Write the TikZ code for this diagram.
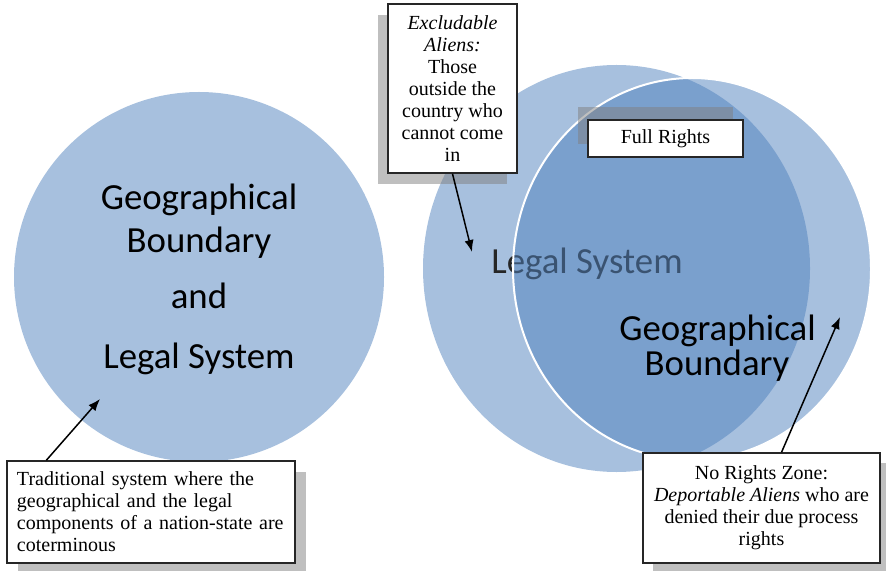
\documentclass[tikz,border=0pt]{standalone}
\usepackage{fontspec}
\setmainfont{Liberation Serif}
\newfontfamily\calibrifont{Carlito}
\usetikzlibrary{arrows.meta, positioning, shadows}
\definecolor{vennblue}{RGB}{79,129,189}
\tikzset{
  zone/.style={
    fill=vennblue,
    fill opacity=0.5
  },
  bigtext/.style={
    font=\calibrifont\fontsize{18.4}{21}\selectfont,
    inner sep=0pt,
    anchor=base
  },
  callout/.style={
    draw=black!85,
    fill=white,
    line width=0.7pt,
    align=center,
    inner sep=2pt,
    font=\fontsize{10}{11}\selectfont
  },
  pointer/.style={
    line width=0.75pt,
    -{Latex[length=6pt,width=4.6pt]}
  }
}

\begin{document}
\begin{tikzpicture}[x=0.5pt, y=-0.5pt]
  \useasboundingbox (0,0) rectangle (886,571);

  % Traditional state
  \fill[zone] (199,277) circle [radius=185];
  \node[bigtext] (geoA) at (199,210) {Geographical};
  \node[bigtext] (geoB) at (199,252) {Boundary};
  \node[bigtext] (andA) at (199,308) {and};
  \node[bigtext] (legA) at (199,368) {Legal System};

  % Legal system and geographical boundary
  \fill[zone] (616.5,268.5) ellipse [x radius=193.5, y radius=203.5];
  \node[bigtext, text=black!85] (legB) at (587,273) {Legal System};
  \filldraw[zone, draw=white, line width=1pt] (692,269) ellipse [x radius=179, y radius=191];
  \node[bigtext] (geoC) at (717.5,340) {Geographical};
  \node[bigtext] (geoD) at (717,375) {Boundary};

  % Arrow targets
  \coordinate (tradtip) at (100,399);
  \coordinate (excltip) at (472,252);
  \coordinate (nortip) at (840,317);

  % Callouts
  \node[callout, minimum width=64.5pt, minimum height=84.5pt,
        drop shadow={shadow xshift=-5pt, shadow yshift=-5.5pt}] (excl) at (452.5,88.5)
    {\textit{Excludable}\\\textit{Aliens:}\\Those\\outside the\\country who\\cannot come\\in};
  \node[callout, minimum width=77.5pt, minimum height=18.5pt,
        drop shadow={shadow xshift=-5pt, shadow yshift=6.5pt}] (full) at (665.5,138.5) {Full Rights};
  \node[callout, align=left, text width=134pt, inner xsep=5pt, minimum height=51pt,
        drop shadow={shadow xshift=5.5pt, shadow yshift=-5.5pt}] (trad) at (151,512)
    {Traditional system where the\\geographical and the legal\\components of a nation-state are\\coterminous};
  \node[callout, minimum width=118.5pt, minimum height=55pt,
        drop shadow={shadow xshift=5pt, shadow yshift=-5pt}] (norights) at (761.5,508)
    {No Rights Zone:\\\textit{Deportable Aliens} who are\\denied their due process\\rights};

  % Pointers
  \draw[pointer] ([xshift=20pt]trad.north west) -- (tradtip);
  \draw[pointer] (excl.south) -- (excltip);
  \draw[pointer] ([xshift=10pt]norights.north) -- (nortip);
\end{tikzpicture}
\end{document}
